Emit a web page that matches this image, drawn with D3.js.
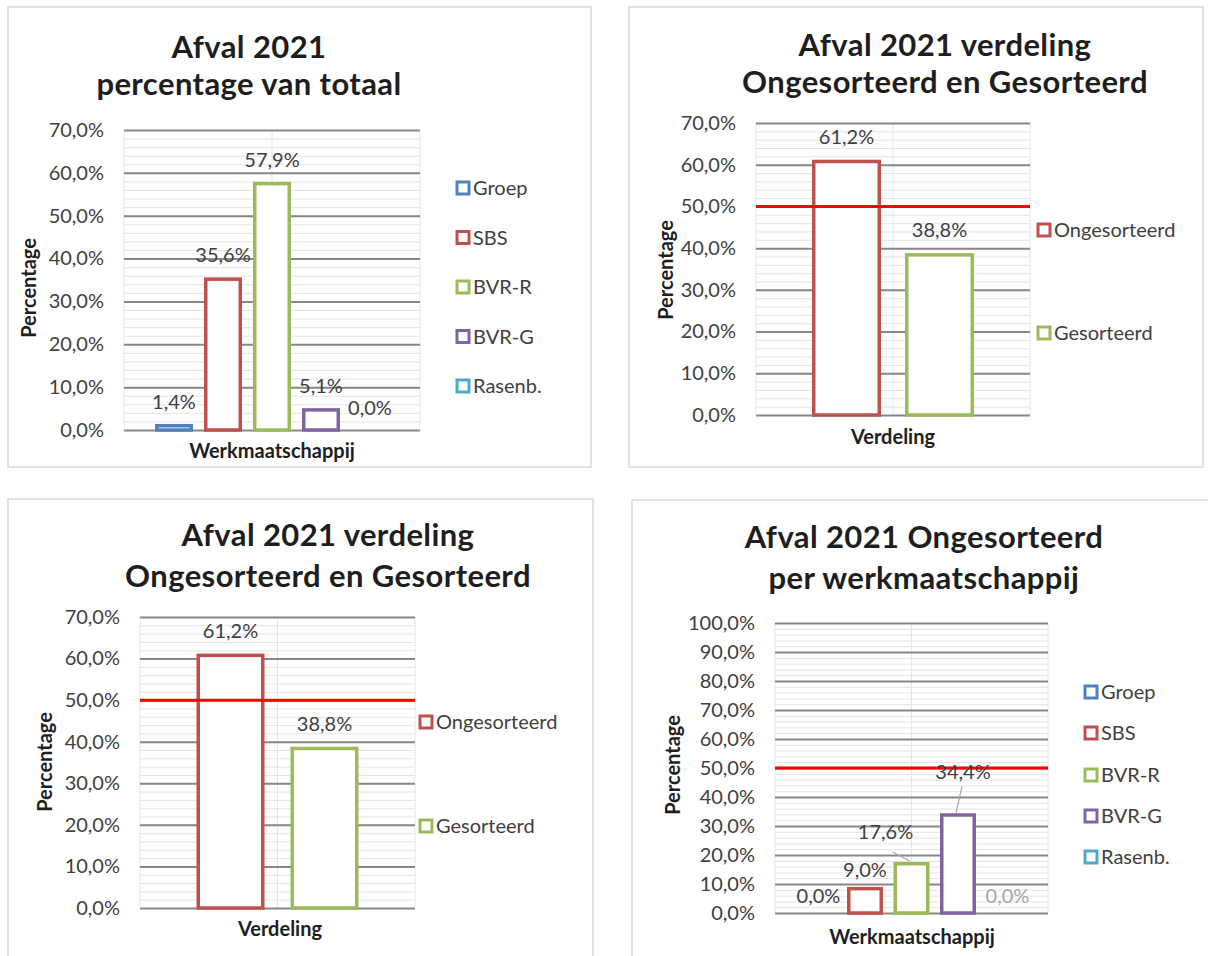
<!DOCTYPE html>
<html>
<head>
<meta charset="utf-8">
<script src="https://cdn.jsdelivr.net/npm/d3@7"></script>
<style>
  body { margin: 0; background: #fff; }
  svg { display: block; }
  text { font-family: Lato, "Open Sans", sans-serif; }
</style>
</head>
<body>
<svg width="1208" height="956"></svg>
<script>
// data
const companies = ["Groep", "SBS", "BVR-R", "BVR-G", "Rasenb."];
const shareOfTotal = [1.4, 35.6, 57.9, 5.1, 0.0];
const splitCats = ["Ongesorteerd", "Gesorteerd"];
const splitValues = [61.2, 38.8];
const unsortedPerCompany = [0.0, 9.0, 17.6, 34.4, 0.0];
const ticks70 = [0, 10, 20, 30, 40, 50, 60, 70];
const ticks100 = [0, 10, 20, 30, 40, 50, 60, 70, 80, 90, 100];
const threshold = 50;

const colors = {
  "Groep": "#4F81BD", "SBS": "#C0504D", "BVR-R": "#9BBB59", "BVR-G": "#8064A2", "Rasenb.": "#4BACC6",
  "Ongesorteerd": "#C0504D", "Gesorteerd": "#9BBB59"
};
const fmt = v => d3.format(".1f")(v).replace(".", ",") + "%";
const svg = d3.select("svg");

function panel(cfg) {
  const g = svg.append("g");
  const p = cfg.plot;

  g.append("rect")
    .attr("x", cfg.frame[0]).attr("y", cfg.frame[1])
    .attr("width", cfg.frame[2] - cfg.frame[0]).attr("height", cfg.frame[3] - cfg.frame[1])
    .attr("fill", "none").attr("stroke", "#d9d9d9").attr("stroke-width", 1.5);

  cfg.title.forEach((t, i) => {
    g.append("text")
      .attr("x", cfg.titleX).attr("y", cfg.titleY[i])
      .attr("text-anchor", "middle")
      .attr("font-size", 31).attr("font-weight", "bold").attr("fill", "#1e1e1e")
      .attr("letter-spacing", 0.4)
      .text(t);
  });

  const y = d3.scaleLinear().domain([0, cfg.yMax]).range([p.bottom, p.top]);
  const cx = (p.left + p.right) / 2;
  const n = cfg.cats.length;
  const pad = 1 - cfg.barW / cfg.step;
  const x = d3.scaleBand().domain(cfg.cats)
    .range([cx - cfg.step * n / 2, cx + cfg.step * n / 2])
    .paddingInner(pad).paddingOuter(pad / 2);

  // minor grid (2%)
  g.append("g")
    .attr("transform", `translate(${p.left},0)`)
    .call(d3.axisLeft(y).tickValues(d3.range(0, cfg.yMax + 0.1, 2)).tickSize(-(p.right - p.left)).tickFormat(""))
    .call(a => a.select(".domain").remove())
    .call(a => a.selectAll("line").attr("stroke", "#e4e4e4").attr("stroke-width", 1));

  // faint vertical lines
  g.selectAll(".vline").data([p.left, cx, p.right]).enter().append("line")
    .attr("x1", d => d).attr("x2", d => d).attr("y1", p.top).attr("y2", p.bottom)
    .attr("stroke", "#e6e6e6").attr("stroke-width", 1);

  // major grid + tick labels
  g.append("g")
    .attr("transform", `translate(${p.left},0)`)
    .call(d3.axisLeft(y).tickValues(cfg.ticks).tickSize(-(p.right - p.left)).tickPadding(20).tickFormat(fmt))
    .call(a => a.select(".domain").remove())
    .call(a => a.selectAll("line").attr("stroke", "#878787").attr("stroke-width", 2))
    .call(a => a.selectAll("text").attr("font-size", 20).attr("fill", "#404040")
      .attr("font-family", "Lato, 'Open Sans', sans-serif"));

  const sw = 3.5;
  const rows = cfg.cats.map((c, i) => ({ cat: c, v: cfg.values[i] }));

  g.selectAll(".bar").data(rows.filter(d => d.v > 0)).enter().append("rect")
    .attr("x", d => x(d.cat) + sw / 2)
    .attr("width", x.bandwidth() - sw)
    .attr("y", d => y(d.v) + sw / 2)
    .attr("height", d => y(0) - y(d.v) - sw / 2)
    .attr("fill", "#fff")
    .attr("stroke", d => colors[d.cat]).attr("stroke-width", sw);

  if (cfg.threshold != null) {
    g.append("line")
      .attr("x1", p.left).attr("x2", p.right)
      .attr("y1", y(cfg.threshold)).attr("y2", y(cfg.threshold))
      .attr("stroke", "#ff0000").attr("stroke-width", 3);
  }

  // data labels
  rows.forEach(d => {
    const o = (cfg.labelMove && cfg.labelMove[d.cat]) || { dx: 0, dy: 0 };
    const bx = x(d.cat) + x.bandwidth() / 2;
    const lx = bx + o.dx, ly = y(d.v) - cfg.labelGap + o.dy;
    if (o.leader) {
      g.append("line")
        .attr("x1", lx + o.leader[0]).attr("y1", ly + o.leader[1])
        .attr("x2", bx + o.leader[2]).attr("y2", y(d.v) + o.leader[3])
        .attr("stroke", "#a6a6a6").attr("stroke-width", 1.2);
    }
    g.append("text")
      .attr("x", lx).attr("y", ly)
      .attr("text-anchor", "middle")
      .attr("font-size", 20).attr("fill", o.color || "#404040")
      .text(fmt(d.v));
  });

  // legend
  cfg.cats.forEach((c, i) => {
    const ly = cfg.legend.ys[i];
    g.append("rect")
      .attr("x", cfg.legend.x - 6).attr("y", ly - 6).attr("width", 12).attr("height", 12)
      .attr("fill", "#fff").attr("stroke", colors[c]).attr("stroke-width", 3);
    g.append("text")
      .attr("x", cfg.legend.x + 10).attr("y", ly + 7)
      .attr("font-size", 20).attr("fill", "#404040")
      .text(c);
  });

  g.append("text")
    .attr("transform", `translate(${cfg.yTitle[0]},${cfg.yTitle[1]}) rotate(-90)`)
    .attr("text-anchor", "middle").attr("dominant-baseline", "central")
    .attr("font-size", 20).attr("font-weight", "bold").attr("fill", "#1e1e1e")
    .text("Percentage");

  g.append("text")
    .attr("x", cfg.xTitle[0]).attr("y", cfg.xTitle[1])
    .attr("text-anchor", "middle").attr("dominant-baseline", "central")
    .attr("font-size", 20).attr("font-weight", "bold").attr("fill", "#1e1e1e")
    .text(cfg.xLabel);
}

panel({
  frame: [8, 7, 591, 467],
  title: ["Afval 2021", "percentage van totaal"], titleX: 249, titleY: [58, 95],
  plot: { left: 124, right: 420, top: 130, bottom: 430 },
  yMax: 70, ticks: ticks70,
  cats: companies, values: shareOfTotal,
  step: 49, barW: 38, labelGap: 15,
  legend: { x: 463, ys: [188, 237.5, 287, 336.5, 386] },
  yTitle: [28, 288], xTitle: [272, 450], xLabel: "Werkmaatschappij"
});

panel({
  frame: [629, 7, 1203, 467],
  title: ["Afval 2021 verdeling", "Ongesorteerd en Gesorteerd"], titleX: 945, titleY: [56, 93],
  plot: { left: 756, right: 1030, top: 123, bottom: 415 },
  yMax: 70, ticks: ticks70,
  cats: splitCats, values: splitValues,
  step: 93, barW: 69, labelGap: 16, threshold: threshold,
  legend: { x: 1044, ys: [230, 333] },
  yTitle: [665, 270], xTitle: [893, 436], xLabel: "Verdeling"
});

panel({
  frame: [8, 499, 593, 962],
  title: ["Afval 2021 verdeling", "Ongesorteerd en Gesorteerd"], titleX: 328, titleY: [546, 587],
  plot: { left: 140, right: 415, top: 617, bottom: 908 },
  yMax: 70, ticks: ticks70,
  cats: splitCats, values: splitValues,
  step: 94, barW: 68, labelGap: 16, threshold: threshold,
  legend: { x: 426, ys: [722, 826] },
  yTitle: [44, 762], xTitle: [280, 928], xLabel: "Verdeling"
});

panel({
  frame: [632, 500, 1215, 962],
  title: ["Afval 2021 Ongesorteerd", "per werkmaatschappij"], titleX: 924, titleY: [548, 589],
  plot: { left: 775, right: 1048, top: 623, bottom: 913 },
  yMax: 100, ticks: ticks100,
  cats: companies, values: unsortedPerCompany,
  step: 46.5, barW: 36, labelGap: 10, threshold: threshold,
  labelMove: {
    "BVR-R": { dx: -26, dy: -13, leader: [7, 13, -2, -1] },
    "BVR-G": { dx: 5, dy: -24, leader: [-1, 7, -2, 0] },
    "Rasenb.": { dx: 3, dy: 0, color: "#a6a6a6" }
  },
  legend: { x: 1091, ys: [692, 733, 775, 816, 857] },
  yTitle: [672, 765], xTitle: [912, 936], xLabel: "Werkmaatschappij"
});
</script>
</body>
</html>
